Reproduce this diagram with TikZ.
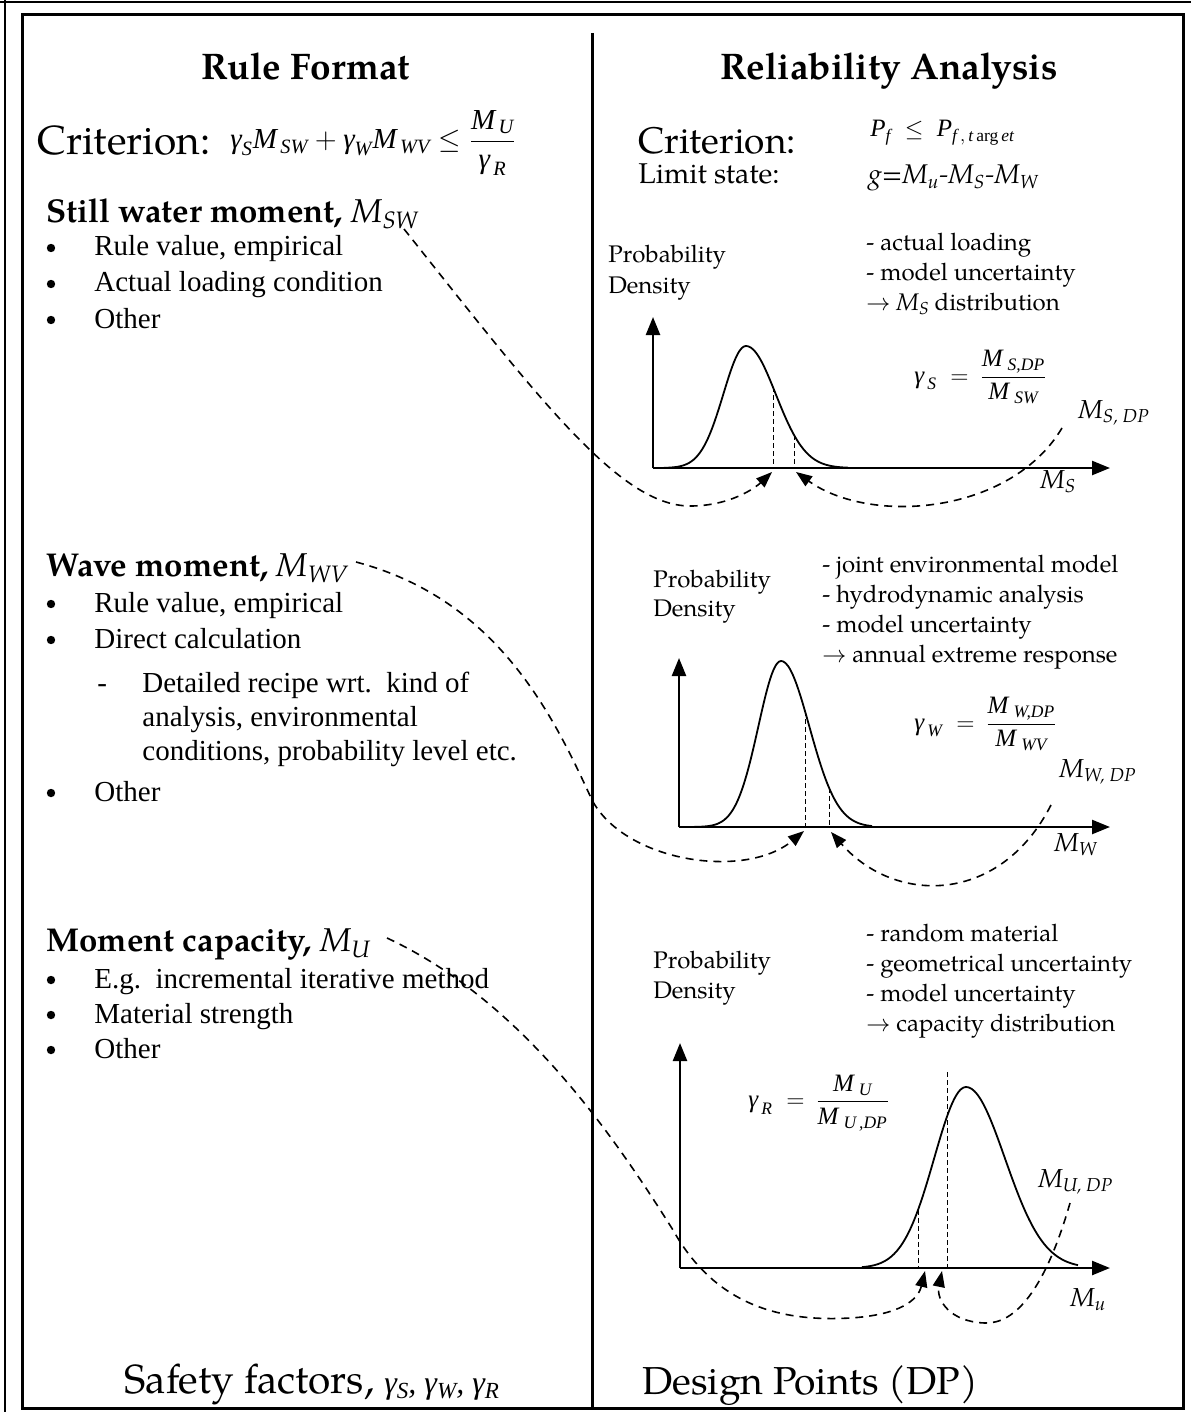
\documentclass[tikz,border=0pt]{standalone}
\usepackage{fontspec}
\usepackage{amsmath}
\usepackage{graphicx}
\setmainfont{Liberation Serif}
\newfontfamily\pal{texgyrepagella}[Extension=.otf,UprightFont=*-regular,BoldFont=*-bold,ItalicFont=*-italic,BoldItalicFont=*-bolditalic]
\newfontfamily\tms{Liberation Serif}
\usetikzlibrary{arrows.meta}
\newcommand\mi[1]{\text{\tms\itshape #1}}
\newcommand\dn[1]{\raisebox{-0.35ex}{\scalebox{0.72}{#1}}}
\newcommand\fsz[2]{\fontsize{#1}{#2}\selectfont}
\begin{document}
\begin{tikzpicture}[x=0.5pt,y=-0.5pt,
  frame/.style={line width=1.5pt},
  axis/.style={line width=1.2pt,-{Triangle[length=9pt,width=7pt]}},
  bell/.style={line width=0.9pt},
  guide/.style={line width=0.5pt,dash pattern=on 2.5pt off 1.5pt},
  link/.style={line width=0.8pt,dash pattern=on 4pt off 3pt,-{Triangle[length=8pt,width=6pt]}},
  title/.style={anchor=base,inner sep=0pt,font=\pal\bfseries\fsz{18.5}{22}},
  big/.style={anchor=base west,inner sep=0pt,font=\pal\fsz{20.3}{24}},
  mid/.style={anchor=base west,inner sep=0pt,font=\pal\fsz{14.3}{17}},
  head/.style={anchor=base west,inner sep=0pt,font=\pal\bfseries\fsz{16.5}{19}},
  dot/.style={circle,fill=black,inner sep=0pt,minimum size=4.2pt},
  item/.style={anchor=base west,inner sep=0pt,font=\tms\fsz{14.5}{17}},
  note/.style={anchor=base west,inner sep=0pt,font=\pal\fsz{12}{15}},
  formula/.style={inner sep=0pt,font=\tms\fsz{14.5}{17}},
  gform/.style={inner sep=0pt,font=\tms\fsz{12.5}{15}},
  lab/.style={anchor=base west,inner sep=0pt,font=\pal\itshape\fsz{13}{15}},
]
\useasboundingbox (0,0) rectangle (1191,1412);
\fill[white] (0,0) rectangle (1191,1412);
% frames
\draw[line width=1pt] (0,2) -- (1191,2);
\draw[line width=1pt] (5,0) -- (5,1412);
\draw[frame] (22,15) rectangle (1183,1408);
\draw[frame] (592,33) -- (592,1408);

% titles and criteria
\node[title] (tl) at (306,80) {Rule Format};
\node[title] (tr) at (889,80) {Reliability Analysis};
\node[big] (critl) at (37,155) {Criterion:};
\node[formula,anchor=west] (fl) at (230,143)
  {$\mi{γ}_{\mi{S}}\mi{M}_{\,\mi{SW}} + \mi{γ}_{\mi{W}}\mi{M}_{\,\mi{WV}} \le \dfrac{\mi{M}_{\,\mi{U}}}{\mi{γ}_{\,\mi{R}}}$};
\node[big,font=\pal\fsz{18.5}{22}] (critr) at (638,154) {Criterion:};
\node[formula,anchor=base west,font=\tms\fsz{12.5}{15}] (fr) at (870,137)
  {$\mi{P}_{\mi{f}} \;\le\; \mi{P}_{\mi{f}\,,\,\mi{t}\,\text{\tms arg}\,\mi{et}}$};
\node[mid] (lsr) at (638,184) {Limit state:};
\node[mid,font=\pal\fsz{13.5}{16}] (gfn) at (868,184) {\itshape g=M\textsubscript{u}-M\textsubscript{S}-M\textsubscript{W}};

% left: still water
\node[head] (hsw) at (46,222) {Still water moment, {\mdseries\itshape M\dn{SW}}};
\node[dot] (b11) at (51,248) {};
\node[item] (i11) at (94,256) {Rule value, empirical};
\node[dot] (b12) at (51,284) {};
\node[item] (i12) at (94,292) {Actual loading condition};
\node[dot] (b13) at (51,320) {};
\node[item] (i13) at (94,328) {Other};

% left: wave
\node[head] (hwv) at (46,576) {Wave moment, {\mdseries\itshape M\dn{WV}}};
\node[dot] (b21) at (51,604) {};
\node[item] (i21) at (94,612) {Rule value, empirical};
\node[dot] (b22) at (51,640) {};
\node[item] (i22) at (94,648) {Direct calculation};
\node[item] (d23) at (97,692) {-};
\node[item] (i23) at (142,692) {Detailed recipe wrt.\ \ kind of};
\node[item] (i24) at (142,726) {analysis, environmental};
\node[item] (i25) at (142,760) {conditions, probability level etc.};
\node[dot] (b26) at (51,793) {};
\node[item] (i26) at (94,801) {Other};

% left: capacity
\node[head] (hmu) at (46,951) {Moment capacity, {\mdseries\itshape M\dn{U}}};
\node[dot] (b31) at (51,980) {};
\node[item] (i31) at (94,988) {E.g.\ \ incremental iterative method};
\node[dot] (b32) at (51,1015) {};
\node[item] (i32) at (94,1023) {Material strength};
\node[dot] (b33) at (51,1050) {};
\node[item] (i33) at (94,1058) {Other};

% bottom
\node[big] (sf) at (124,1393) {Safety factors, {\tms\itshape\fsz{16}{18}γ\dn{S}, γ\dn{W}, γ\dn{R}}};
\node[big,font=\pal\fsz{19.5}{23}] (dp) at (642,1394) {Design Points (DP)};

% ---------- graph 1 ----------
\node[note] (p1a) at (608,263) {Probability};
\node[note] (p1b) at (608,293) {Density};
\node[note] (n11) at (866,250) {- actual loading};
\node[note] (n12) at (866,280) {- model uncertainty};
\node[note] (n13) at (866,310) {$\rightarrow$ {\itshape M\dn{S}} distribution};
\draw[axis] (653,468) -- (653,317);
\draw[axis] (653,468) -- (1110,468);
\draw[bell] plot[domain=664:746,samples=40,smooth] (\x,{468-122*exp(-((\x-746)/32)^2)})
  -- plot[domain=746:848,samples=40,smooth] (\x,{468-122*exp(-((\x-746)/42)^2)});
\draw[guide] (773,{468-122*exp(-((773-746)/42)^2)}) -- (773,468);
\draw[guide] (794,{468-122*exp(-((794-746)/42)^2)}) -- (794,468);
\node[gform,anchor=west] (gs) at (914,377) {$\mi{γ}_{\,\mi{S}} \;=\, \dfrac{\mi{M}_{\;\mi{S,DP}}}{\mi{M}_{\;\mi{SW}}}$};
\node[lab] (msdp) at (1078,418) {M\dn{S, DP}};
\node[lab] (ms) at (1040,488) {M\dn{S}};
\coordinate (s1) at (404,229);
\coordinate (t1a) at (772,472);
\coordinate (r1) at (1062,428);
\coordinate (t1b) at (796,472);
\draw[link] (s1) .. controls (540,400) and (620,506) .. (690,506) .. controls (730,506) and (755,488) .. (t1a);
\draw[link] (r1) .. controls (1010,515) and (870,525) .. (t1b);

% ---------- graph 2 ----------
\node[note] (p2a) at (653,587) {Probability};
\node[note] (p2b) at (653,616) {Density};
\node[note] (n21) at (822,572) {- joint environmental model};
\node[note] (n22) at (822,602) {- hydrodynamic analysis};
\node[note] (n23) at (822,632) {- model uncertainty};
\node[note] (n24) at (822,662) {$\rightarrow$ annual extreme response};
\draw[axis] (679,827) -- (679,658);
\draw[axis] (679,827) -- (1110,827);
\draw[bell] plot[domain=692:781,samples=40,smooth] (\x,{827-166*exp(-((\x-781)/32)^2)})
  -- plot[domain=781:872,samples=40,smooth] (\x,{827-166*exp(-((\x-781)/40)^2)});
\draw[guide] (805,{827-166*exp(-((805-781)/40)^2)}) -- (805,827);
\draw[guide] (829,{827-166*exp(-((829-781)/40)^2)}) -- (829,827);
\node[gform,anchor=west] (gw) at (914,724) {$\mi{γ}_{\,\mi{W}} \;=\, \dfrac{\mi{M}_{\;\mi{W,DP}}}{\mi{M}_{\;\mi{WV}}}$};
\node[lab] (mwdp) at (1059,777) {M\dn{W, DP}};
\node[lab] (mw) at (1054,851) {M\dn{W}};
\coordinate (s2) at (356,562);
\coordinate (t2a) at (804,831);
\coordinate (r2) at (1051,805);
\coordinate (t2b) at (831,832);
\draw[link] (s2) .. controls (500,600) and (555,720) .. (592,800) .. controls (625,862) and (745,880) .. (t2a);
\draw[link] (r2) .. controls (1000,905) and (895,905) .. (t2b);

% ---------- graph 3 ----------
\node[note] (p3a) at (653,968) {Probability};
\node[note] (p3b) at (653,998) {Density};
\node[note] (n31) at (866,941) {- random material};
\node[note] (n32) at (866,971) {- geometrical uncertainty};
\node[note] (n33) at (866,1001) {- model uncertainty};
\node[note] (n34) at (866,1031) {$\rightarrow$ capacity distribution};
\draw[axis] (680,1268) -- (680,1043);
\draw[axis] (680,1268) -- (1110,1268);
\draw[bell] plot[domain=862:966,samples=40,smooth] (\x,{1268-181*exp(-((\x-966)/45)^2)})
  -- plot[domain=966:1078,samples=40,smooth] (\x,{1268-181*exp(-((\x-966)/55)^2)});
\draw[guide] (918,{1268-181*exp(-((918-966)/45)^2)}) -- (918,1268);
\draw[guide] (947,1072) -- (947,1268);
\node[gform,anchor=west] (gr) at (748,1103) {$\mi{γ}_{\,\mi{R}} \;=\, \dfrac{\mi{M}_{\;\mi{U}}}{\mi{M}_{\;\mi{U\,,DP}}}$};
\node[lab] (mudp) at (1038,1187) {M\dn{U, DP}};
\node[lab] (mu) at (1070,1306) {M\dn{u}};
\coordinate (s3) at (387,938);
\coordinate (t3a) at (925,1271);
\coordinate (r3) at (1070,1203);
\coordinate (t3b) at (942,1271);
\draw[link] (s3) .. controls (520,1000) and (610,1130) .. (673,1230) .. controls (715,1305) and (780,1322) .. (850,1318) .. controls (900,1315) and (918,1300) .. (t3a);
\draw[link] (r3) .. controls (1045,1290) and (1015,1324) .. (985,1323) .. controls (950,1322) and (936,1300) .. (t3b);
\end{tikzpicture}
\end{document}
